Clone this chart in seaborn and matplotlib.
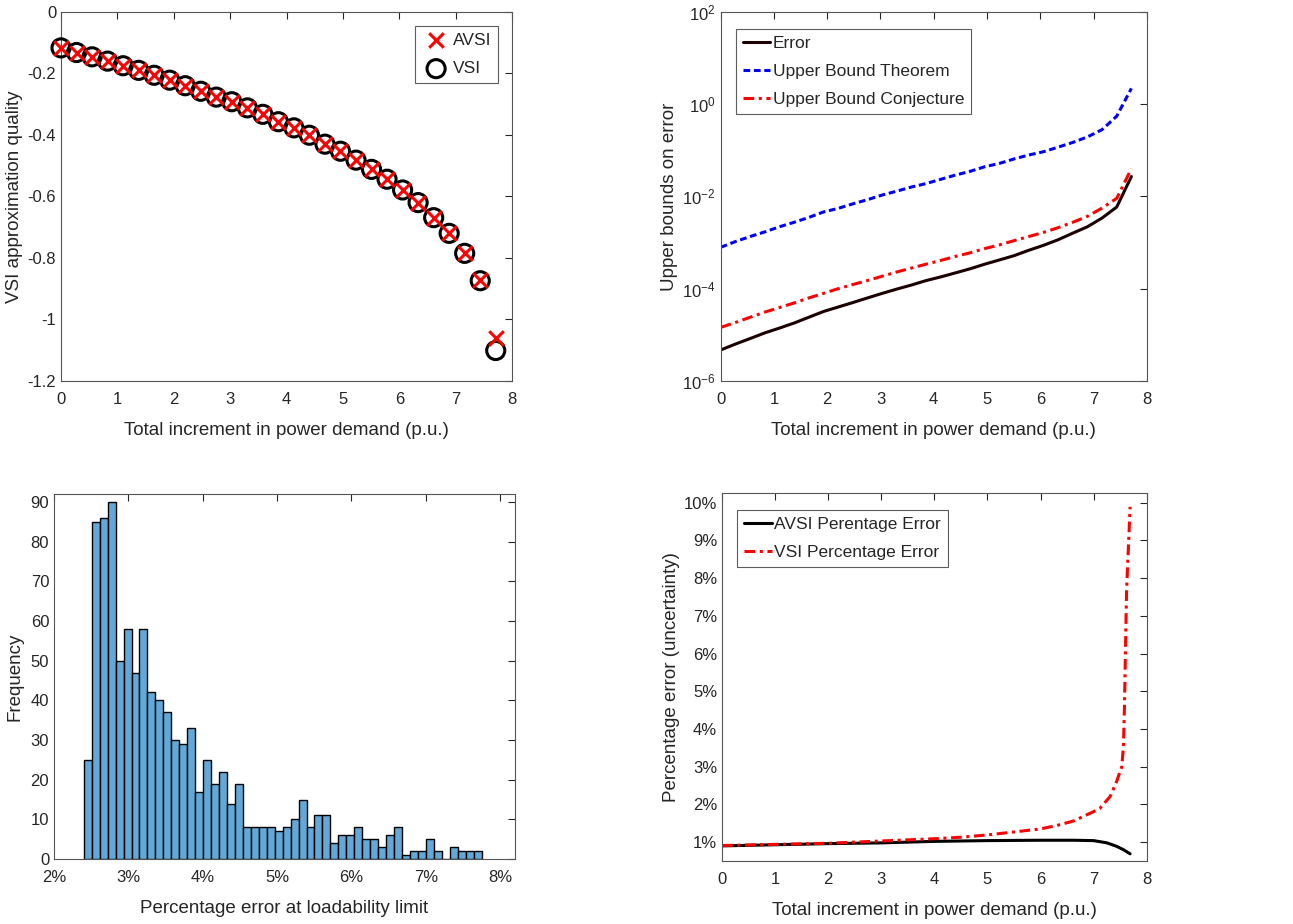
"""
VSI / AVSI comparison: approximation quality, error bounds, histogram and percentage error.
"""

import numpy as np
import pandas as pd
import matplotlib
matplotlib.use("Agg")
import matplotlib.pyplot as plt
import seaborn as sns

# --- top left: VSI approximation quality ---
demand = [0.000, 0.275, 0.551, 0.826, 1.102, 1.377, 1.652, 1.928, 2.203, 2.479,
          2.754, 3.029, 3.305, 3.580, 3.856, 4.131, 4.406, 4.682, 4.957, 5.233,
          5.508, 5.783, 6.059, 6.334, 6.610, 6.885, 7.160, 7.436, 7.711]
avsi = [-0.117, -0.132, -0.146, -0.160, -0.175, -0.190, -0.206, -0.222, -0.240, -0.258,
        -0.277, -0.292, -0.312, -0.333, -0.357, -0.377, -0.401, -0.430, -0.453, -0.482,
        -0.512, -0.544, -0.579, -0.620, -0.669, -0.720, -0.785, -0.872, -1.061]
vsi = [-0.117, -0.132, -0.146, -0.160, -0.175, -0.190, -0.206, -0.222, -0.240, -0.258,
       -0.277, -0.292, -0.312, -0.333, -0.357, -0.377, -0.401, -0.430, -0.453, -0.482,
       -0.512, -0.544, -0.579, -0.620, -0.669, -0.720, -0.785, -0.874, -1.101]

# --- top right: upper bounds on error (same demand grid) ---
err = [4.7e-6, 6.3e-6, 8.3e-6, 1.1e-5, 1.4e-5, 1.8e-5, 2.4e-5, 3.2e-5, 4.0e-5, 5.0e-5,
       6.3e-5, 7.9e-5, 9.8e-5, 1.2e-4, 1.5e-4, 1.8e-4, 2.2e-4, 2.7e-4, 3.4e-4, 4.2e-4,
       5.2e-4, 6.8e-4, 8.7e-4, 1.15e-3, 1.6e-3, 2.2e-3, 3.4e-3, 5.9e-3, 2.7e-2]
bound_thm = [7.9e-4, 1.05e-3, 1.35e-3, 1.7e-3, 2.2e-3, 2.75e-3, 3.5e-3, 4.6e-3, 5.5e-3, 6.9e-3,
             8.5e-3, 1.07e-2, 1.3e-2, 1.6e-2, 1.9e-2, 2.35e-2, 2.9e-2, 3.5e-2, 4.4e-2, 5.2e-2,
             6.5e-2, 7.9e-2, 9.3e-2, 0.117, 0.148, 0.195, 0.28, 0.55, 2.2]
bound_conj = [1.45e-5, 1.85e-5, 2.4e-5, 3.1e-5, 3.9e-5, 4.9e-5, 6.3e-5, 7.9e-5, 1.0e-4, 1.23e-4,
              1.5e-4, 1.86e-4, 2.3e-4, 2.8e-4, 3.4e-4, 4.1e-4, 5.0e-4, 6.0e-4, 7.4e-4, 8.9e-4,
              1.1e-3, 1.35e-3, 1.66e-3, 2.1e-3, 2.75e-3, 3.7e-3, 5.6e-3, 9.1e-3, 4.0e-2]

# --- bottom left: histogram of percentage error at loadability limit ---
hist_counts = [25, 85, 86, 90, 50, 58, 47, 58, 42, 40,
               37, 30, 29, 33, 17, 25, 19, 22, 14, 19,
               8, 8, 8, 8, 7, 8, 10, 15, 8, 11,
               11, 4, 6, 6, 8, 5, 5, 3, 6, 8,
               1, 2, 2, 5, 2, 0, 3, 2, 2, 2]
hist_lo, hist_hi = 2.40, 7.75

# --- bottom right: percentage error ---
pe_x = [0.0, 1.0, 2.0, 3.0, 4.0, 4.5, 5.0, 5.5, 6.0, 6.3, 6.62, 7.0, 7.12, 7.31,
        7.43, 7.53, 7.56, 7.58, 7.60, 7.62, 7.655, 7.686]
vsi_pe = [0.91, 0.94, 0.97, 1.03, 1.09, 1.13, 1.19, 1.27, 1.35, 1.44, 1.56, 1.81, 1.90, 2.21,
          2.60, 3.00, 3.53, 4.59, 6.18, 7.69, 8.83, 9.89]
avsi_x = [0.0, 1.0, 2.0, 3.0, 4.0, 5.0, 6.0, 6.62, 7.0, 7.25, 7.43, 7.56, 7.686]
avsi_pe = [0.90, 0.93, 0.96, 0.98, 1.02, 1.04, 1.05, 1.05, 1.04, 0.98, 0.89, 0.80, 0.69]

XLABEL = 'Total increment in power demand (p.u.)'
TXT = '#262626'
LAB = 13.5     # axis label size
LEG = 12.5     # legend size
DASHDOT = (0, (3.5, 1.5, 1, 1.5))


def style_axes(ax):
    ax.tick_params(direction='in', top=True, right=True, length=5, width=0.8,
                   labelsize=12, colors=TXT, labelcolor=TXT)
    ax.tick_params(axis='x', pad=8)
    ax.tick_params(axis='y', pad=3.5)
    for s in ax.spines.values():
        s.set_color('#555555')
        s.set_linewidth(0.8)
        s.set_visible(True)


def legend_box(ax, handles, labels, anchor, loc):
    leg = ax.legend(handles, labels, loc=loc, bbox_to_anchor=anchor, fontsize=LEG,
                    frameon=True, fancybox=False, edgecolor='#333333',
                    borderaxespad=0, borderpad=0.4, handlelength=1.6,
                    handletextpad=0.15, labelspacing=0.75)
    leg.get_frame().set_linewidth(0.8)
    return leg


sns.set_style('white')
plt.rcParams['font.family'] = ['Liberation Sans', 'DejaVu Sans']

fig = plt.figure(figsize=(12.93, 9.24), dpi=100)
ax1 = fig.add_axes([0.0472, 0.5877, 0.3488, 0.3994])
ax2 = fig.add_axes([0.5574, 0.5877, 0.3295, 0.3994])
ax3 = fig.add_axes([0.0418, 0.0703, 0.3565, 0.3950])
ax4 = fig.add_axes([0.5584, 0.0682, 0.3285, 0.3980])

# top left
sns.scatterplot(x=demand, y=vsi, ax=ax1, marker='o', s=170, facecolor='none',
                edgecolor='black', linewidth=2.2, label='VSI', zorder=3, clip_on=False)
sns.scatterplot(x=demand, y=avsi, ax=ax1, marker='x', s=110, color='red',
                linewidth=2.2, label='AVSI', zorder=4, clip_on=False)
ax1.set_xlim(0, 8)
ax1.set_ylim(-1.2, 0)
ax1.set_xticks(range(0, 9))
ax1.set_yticks([-1.2, -1, -0.8, -0.6, -0.4, -0.2, 0])
ax1.set_yticklabels(['-1.2', '-1', '-0.8', '-0.6', '-0.4', '-0.2', '0'])
ax1.set_xlabel(XLABEL, fontsize=LAB, color=TXT, labelpad=11)
ax1.set_ylabel('VSI approximation quality', fontsize=LAB, color=TXT, labelpad=3)
h, l = ax1.get_legend_handles_labels()
legend_box(ax1, h[::-1], l[::-1], (0.969, 0.962), 'upper right')
style_axes(ax1)

# top right
sns.lineplot(x=demand, y=err, ax=ax2, color='#1a0000', linewidth=2.2, label='Error')
sns.lineplot(x=demand, y=bound_thm, ax=ax2, color='blue', linewidth=2.2,
             linestyle=(0, (2.2, 1.2)), label='Upper Bound Theorem')
sns.lineplot(x=demand, y=bound_conj, ax=ax2, color='red', linewidth=2.2,
             linestyle=DASHDOT, label='Upper Bound Conjecture')
ax2.set_yscale('log')
ax2.set_xlim(0, 8)
ax2.set_ylim(1e-6, 1e2)
ax2.set_xticks(range(0, 9))
ax2.set_yticks([1e-6, 1e-4, 1e-2, 1e0, 1e2])
ax2.yaxis.set_minor_locator(matplotlib.ticker.NullLocator())
ax2.set_xlabel(XLABEL, fontsize=LAB, color=TXT, labelpad=11)
ax2.set_ylabel('Upper bounds on error', fontsize=LAB, color=TXT, labelpad=3)
h, l = ax2.get_legend_handles_labels()
legend_box(ax2, h, l, (0.035, 0.954), 'upper left')
style_axes(ax2)

# bottom left
edges = np.linspace(hist_lo, hist_hi, len(hist_counts) + 1)
hist_df = pd.DataFrame({'pct': (edges[:-1] + edges[1:]) / 2, 'count': hist_counts})
sns.histplot(data=hist_df, x='pct', weights='count', bins=edges.tolist(), ax=ax3,
             color='#62a8d8', alpha=1, edgecolor='black', linewidth=1.0)
ax3.set_xlim(2, 8.2)
ax3.set_ylim(0, 92)
ax3.set_xticks([2, 3, 4, 5, 6, 7, 8])
ax3.set_xticklabels([f'{v}%' for v in range(2, 9)])
ax3.set_yticks(range(0, 91, 10))
ax3.set_xlabel('Percentage error at loadability limit', fontsize=LAB, color=TXT, labelpad=11)
ax3.set_ylabel('Frequency', fontsize=LAB, color=TXT, labelpad=5)
style_axes(ax3)

# bottom right
sns.lineplot(x=avsi_x, y=avsi_pe, ax=ax4, color='black', linewidth=2.2,
             label='AVSI Perentage Error')
sns.lineplot(x=pe_x, y=vsi_pe, ax=ax4, color='red', linewidth=2.2,
             linestyle=DASHDOT, label='VSI Percentage Error')
ax4.set_xlim(0, 8)
ax4.set_ylim(0.5, 10.25)
ax4.set_xticks(range(0, 9))
ax4.set_yticks(range(1, 11))
ax4.set_yticklabels([f'{v}%' for v in range(1, 11)])
ax4.set_xlabel(XLABEL, fontsize=LAB, color=TXT, labelpad=11)
ax4.set_ylabel('Percentage error (uncertainty)', fontsize=LAB, color=TXT, labelpad=3)
h, l = ax4.get_legend_handles_labels()
legend_box(ax4, h, l, (0.035, 0.955), 'upper left')
style_axes(ax4)

fig.savefig('out.png', dpi=100)
